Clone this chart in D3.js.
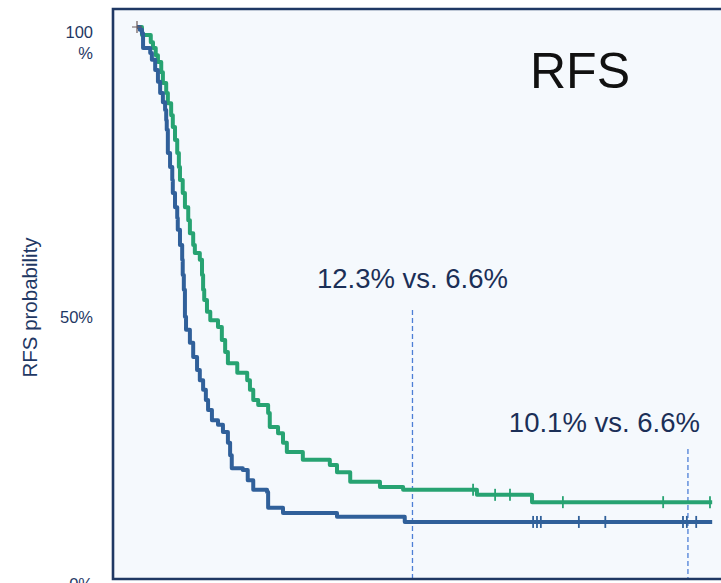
<!DOCTYPE html>
<html><head><meta charset="utf-8">
<script src="https://cdn.jsdelivr.net/npm/d3@7"></script>
<style>
body{margin:0;background:#fff;}
svg{display:block;font-family:"Liberation Sans",Arial,Helvetica,sans-serif;}
</style>
</head><body>
<svg id="chart" width="721" height="583"></svg>
<script>
// ---- data (years, survival probability) ----
const greenTimes = [0,0.09,0.25,0.29,0.34,0.38,0.44,0.47,0.53,0.56,0.62,0.65,0.69,0.73,0.76,0.78,0.83,0.87,0.93,0.96,1.02,1.05,1.14,1.18,1.20,1.22,1.27,1.33,1.47,1.54,1.60,1.65,1.82,2.00,2.05,2.11,2.20,2.38,2.41,2.56,2.65,2.72,3.01,3.50,3.63,3.87,4.41,4.83,6.17,7.17,10.44];
const greenSurv  = [1.000,0.986,0.973,0.963,0.950,0.938,0.920,0.901,0.883,0.865,0.844,0.823,0.800,0.777,0.752,0.729,0.706,0.681,0.658,0.635,0.614,0.600,0.588,0.561,0.535,0.517,0.496,0.481,0.469,0.446,0.425,0.405,0.388,0.375,0.358,0.340,0.331,0.317,0.292,0.281,0.264,0.248,0.234,0.225,0.212,0.195,0.186,0.181,0.172,0.159,0.159];
const blueTimes  = [0,0.05,0.09,0.11,0.24,0.27,0.33,0.38,0.42,0.47,0.51,0.53,0.54,0.56,0.60,0.64,0.65,0.69,0.73,0.74,0.78,0.82,0.83,0.85,0.87,0.89,0.96,1.02,1.09,1.14,1.20,1.25,1.29,1.36,1.47,1.56,1.65,1.69,1.72,1.92,2.01,2.11,2.36,2.38,2.65,3.63,4.86,10.44];
const blueSurv   = [1.000,0.995,0.989,0.963,0.954,0.942,0.924,0.903,0.883,0.867,0.853,0.835,0.818,0.777,0.752,0.729,0.706,0.681,0.662,0.641,0.614,0.588,0.561,0.535,0.487,0.464,0.441,0.416,0.393,0.375,0.358,0.340,0.322,0.304,0.296,0.283,0.264,0.242,0.219,0.216,0.198,0.181,0.177,0.149,0.140,0.133,0.124,0.124];
const greenCensor = [6.10,6.50,6.77,7.73,9.55,10.40];
const blueCensor  = [7.19,7.26,7.33,8.02,8.50,9.91,9.98,10.15];
const landmarkYears  = [5,10];
const landmarkLabels = ["12.3% vs. 6.6%","10.1% vs. 6.6%"];
const yTicks      = [0,0.5,1];
const yTickLabels = ["0%","50%","100 %"];
const yTitle = "RFS probability";
const panelTitle = "RFS";

// ---- layout ----
const W = 721, H = 583;
const frame = {left:113, top:9, bottom:579};
const x = d3.scaleLinear().domain([0,10.6]).range([137,721]);
const y = d3.scaleLinear().domain([0,1]).range([592,27]);
const navy = "#1f3864", green = "#27a372", blue = "#30609a";

const svg = d3.select("#chart");
svg.append("rect").attr("x",frame.left).attr("y",frame.top)
  .attr("width",W-frame.left+10).attr("height",frame.bottom-frame.top)
  .attr("fill","#f5f9fd");

const plot = svg.append("g");
const line = d3.line().x(d=>x(d[0])).y(d=>y(d[1])).curve(d3.curveStepAfter);
function stepAt(times, surv, t){ const i = d3.bisectRight(times,t)-1; return surv[Math.max(0,i)]; }

// landmark dashed lines
const lmTop = [310, 449];
landmarkYears.forEach((t,i)=>{
  plot.append("line").attr("x1",x(t)).attr("x2",x(t)).attr("y1",lmTop[i]).attr("y2",frame.bottom)
    .attr("stroke","#4d7fd6").attr("stroke-width",1.3).attr("stroke-dasharray","5,3");
});

const series = [
  {times:greenTimes, surv:greenSurv, censor:greenCensor, color:green},
  {times:blueTimes,  surv:blueSurv,  censor:blueCensor,  color:blue}
];
series.forEach(s=>{
  const pts = s.times.map((t,i)=>[t,s.surv[i]]);
  plot.append("path").datum(pts).attr("d",line).attr("fill","none")
    .attr("stroke",s.color).attr("stroke-width",4).attr("stroke-linejoin","round");
  plot.selectAll(null).data(s.censor).enter().append("line")
    .attr("x1",d=>x(d)).attr("x2",d=>x(d))
    .attr("y1",d=>y(stepAt(s.times,s.surv,d))-6).attr("y2",d=>y(stepAt(s.times,s.surv,d))+6)
    .attr("stroke",s.color).attr("stroke-width",1.8);
});
// start cross
plot.append("path").attr("d",`M${x(0)-5},${y(1)}H${x(0)+5}M${x(0)},${y(1)-6}V${y(1)+6}`)
  .attr("stroke","#6b5a5a").attr("stroke-width",1.2);

// frame
svg.append("path").attr("d",`M${W+5},${frame.top}H${frame.left}V${frame.bottom}H${W+5}`)
  .attr("fill","none").attr("stroke",navy).attr("stroke-width",2.6);

// y axis labels
const yAxis = d3.axisLeft(y).tickValues(yTicks).tickSize(0).tickPadding(20)
  .tickFormat((d,i)=>yTickLabels[i]);
const ag = svg.append("g").attr("transform",`translate(${frame.left},0)`).call(yAxis);
ag.select(".domain").remove();
const dyAdj = [-8, 8, 5];
ag.selectAll(".tick text").each(function(d,i){
  const t = d3.select(this).attr("fill",navy).attr("font-size",16.5)
    .attr("font-family",'"Liberation Sans",Arial,sans-serif');
  const label = yTickLabels[i];
  if(label.indexOf(" ")>=0){
    const parts = label.split(" ");
    t.text(null).attr("dy",null);
    t.append("tspan").attr("x",-20).attr("y",dyAdj[i]).attr("dy","0.32em").text(parts[0]);
    t.append("tspan").attr("x",-20).attr("y",dyAdj[i]+21).attr("dy","0.32em").text(parts[1]);
  } else {
    t.attr("y",dyAdj[i]).attr("dy","0.32em");
  }
});

// y title
svg.append("text").attr("transform",`translate(37,${y(0.5)-2}) rotate(-90)`)
  .attr("text-anchor","middle").attr("fill",navy).attr("font-size",20.5).text(yTitle);

// panel title
svg.append("text").attr("x",580).attr("y",88).attr("text-anchor","middle")
  .attr("font-size",50).attr("fill","#111").text(panelTitle);

// landmark labels
svg.append("text").attr("x",x(landmarkYears[0])).attr("y",288).attr("text-anchor","middle")
  .attr("font-size",27.5).attr("fill","#1b2f57").text(landmarkLabels[0]);
svg.append("text").attr("x",x(landmarkYears[1])+12).attr("y",432).attr("text-anchor","end")
  .attr("font-size",27.5).attr("fill","#1b2f57").text(landmarkLabels[1]);
</script>
</body></html>
